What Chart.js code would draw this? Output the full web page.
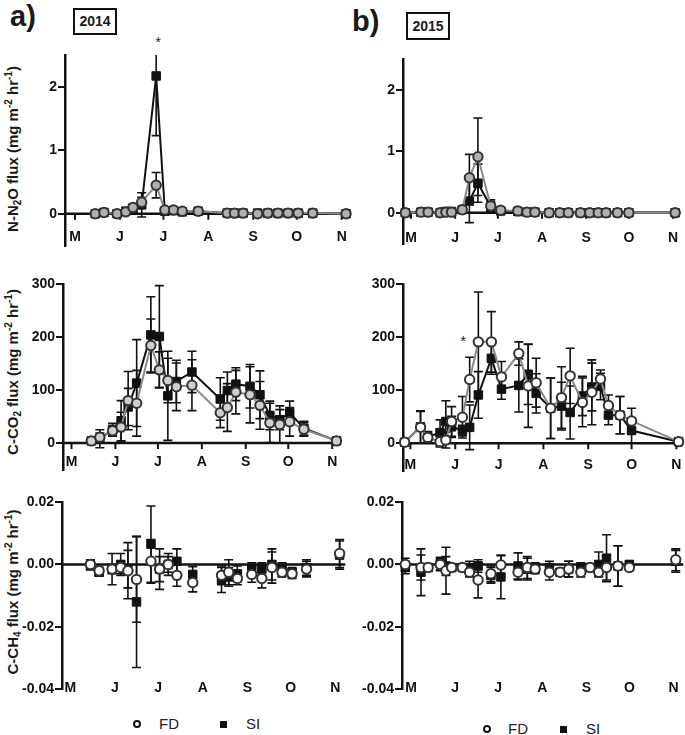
<!DOCTYPE html>
<html>
<head>
<meta charset="utf-8">
<script src="https://cdn.jsdelivr.net/npm/chart.js@4.4.1/dist/chart.umd.min.js"></script>
<style>
body{margin:0;background:#fff;width:685px;height:735px;position:relative;overflow:hidden;font-family:"Liberation Sans",Arial,sans-serif;color:#1a1a1a}
canvas{position:absolute}
.big{position:absolute;font-weight:bold;font-size:29px;line-height:29px}
.year{position:absolute;box-sizing:border-box;border:2px solid #111;font-weight:bold;font-size:14px;text-align:center}
.yt{position:absolute;font-weight:bold;font-size:15px;white-space:nowrap;transform:translate(-50%,-50%) rotate(-90deg)}
.yt sub,.yt sup{font-size:10px;line-height:0}
.yt sub{vertical-align:-3px}
.yt sup{vertical-align:6px}
.star{position:absolute;font-size:14px;line-height:14px}
.lc{position:absolute;width:4px;height:4px;border:2px solid #111;border-radius:50%}
.ls{position:absolute;width:7px;height:7px;background:#111}
.lt{position:absolute;font-size:15px;line-height:16px;color:#222}
</style>
</head>
<body>
<div class="big" style="left:10px;top:2px">a)</div>
<div class="big" style="left:352px;top:7px">b)</div>
<div class="year" style="left:73px;top:8px;width:44px;height:27px;line-height:23px">2014</div>
<div class="year" style="left:406px;top:12px;width:44px;height:28px;line-height:24px">2015</div>

<div class="yt" style="left:12px;top:149px">N-N<sub>2</sub>O flux (mg m<sup>-2</sup> hr<sup>-1</sup>)</div>
<div class="yt" style="left:12px;top:372px">C-CO<sub>2</sub> flux (mg m<sup>-2</sup> hr<sup>-1</sup>)</div>
<div class="yt" style="left:12px;top:592px">C-CH<sub>4</sub> flux (mg m<sup>-2</sup> hr<sup>-1</sup>)</div>

<div class="star" style="left:155.6px;top:35px">*</div>
<div class="star" style="left:460.6px;top:333.5px">*</div>

<canvas id="n2o14"></canvas>
<canvas id="co214"></canvas>
<canvas id="ch414"></canvas>
<canvas id="n2o15"></canvas>
<canvas id="co215"></canvas>
<canvas id="ch415"></canvas>

<span class="lc" style="left:132.7px;top:720.3px"></span>
<span class="lt" style="left:159px;top:716.3px">FD</span>
<span class="ls" style="left:219.5px;top:720.8px"></span>
<span class="lt" style="left:246px;top:716.3px">SI</span>

<span class="lc" style="left:482.7px;top:725.3px"></span>
<span class="lt" style="left:508px;top:721.3px">FD</span>
<span class="ls" style="left:559.8px;top:725.8px"></span>
<span class="lt" style="left:586px;top:721.3px">SI</span>

<script>
// months on the x axis (day of year of the 1st)
const monthLabels = ["M", "J", "J", "A", "S", "O", "N"];
const monthDays = [121, 152, 182, 213, 244, 274, 305];

// sampling days
const days2014 = [135, 141, 150, 156, 161, 167, 177, 183, 189, 195, 206, 226, 231, 237, 247, 254, 261, 268, 275, 285, 308];
const days2015 = [117, 128, 133, 141.5, 145.5, 149.5, 157, 162, 168, 177, 184, 196, 202.5, 208, 218, 225.5, 231.5, 240, 246.5, 252.5, 258, 266, 274, 306.5];

// y tick labels
const n2oTicks = [0, 1, 2];
const co2Ticks = [0, 100, 200, 300];
const ch4Ticks = [-0.04, -0.02, 0, 0.02];

// N2O 2014
const n2oFD14 = [0.00, 0.02, 0.00, 0.03, 0.10, 0.18, 0.45, 0.06, 0.06, 0.04, 0.04, 0.01, 0.01, 0.01, 0.00, 0.01, 0.01, 0.01, 0.01, 0.01, 0.00];
const n2oFD14e = [0.01, 0.01, 0.01, 0.02, 0.05, 0.08, 0.20, 0.02, 0.02, 0.01, 0.01, 0.01, 0.01, 0.01, 0.01, 0.01, 0.01, 0.01, 0.01, 0.01, 0.01];
const n2oSI14 = [0.00, 0.02, 0.00, 0.04, 0.08, 0.14, 2.17, 0.04, 0.05, 0.03, 0.04, 0.01, 0.01, 0.01, 0.01, 0.01, 0.01, 0.01, 0.01, 0.01, 0.00];
const n2oSI14e = [0.01, 0.01, 0.01, 0.02, 0.06, 0.19, 0.94, 0.02, 0.02, 0.01, 0.01, 0.01, 0.01, 0.01, 0.01, 0.01, 0.01, 0.01, 0.01, 0.01, 0.01];

// N2O 2015
const n2oFD15 = [0.00, 0.01, 0.01, 0.00, 0.01, 0.01, 0.05, 0.57, 0.91, 0.11, 0.04, 0.03, 0.01, 0.01, 0.00, 0.00, 0.00, 0.00, 0.00, 0.00, 0.00, 0.00, 0.00, 0.00];
const n2oFD15e = [0.01, 0.01, 0.01, 0.01, 0.01, 0.01, 0.02, 0.38, 0.63, 0.10, 0.02, 0.01, 0.01, 0.01, 0.01, 0.01, 0.01, 0.01, 0.01, 0.01, 0.01, 0.01, 0.01, 0.01];
const n2oSI15 = [0.00, 0.01, 0.01, 0.00, 0.02, 0.02, 0.05, 0.19, 0.48, 0.10, 0.03, 0.02, 0.01, 0.01, 0.00, 0.00, 0.00, 0.00, 0.00, 0.00, 0.00, 0.00, 0.00, 0.00];
const n2oSI15e = [0.01, 0.01, 0.01, 0.01, 0.01, 0.01, 0.03, 0.35, 0.31, 0.08, 0.02, 0.01, 0.01, 0.01, 0.01, 0.01, 0.01, 0.01, 0.01, 0.01, 0.01, 0.01, 0.01, 0.01];

// CO2 2014
const co2FD14 = [4, 11, 23, 30, 80, 75, 184, 138, 118, 106, 109, 57, 67, 96, 91, 71, 38, 35, 40, 26, 4];
const co2FD14e = [2, 8, 10, 28, 55, 62, 50, 34, 42, 45, 48, 28, 45, 41, 53, 45, 37, 35, 27, 13, 2];
const co2SI14 = [4, 8, 25, 42, 68, 113, 204, 201, 89, 116, 134, 83, 99, 111, 107, 91, 52, 44, 57, 28, 4];
const co2SI14e = [2, 17, 12, 38, 35, 82, 72, 96, 84, 40, 39, 40, 35, 31, 41, 45, 27, 19, 22, 13, 2];

// CO2 2015
const co2FD15 = [2, 30, 11, 3, 6, 41, 49, 120, 191, 191, 125, 169, 108, 114, 66, 86, 127, 77, 96, 121, 71, 53, 42, 3];
const co2FD15e = [2, 30, 10, 10, 15, 28, 39, 42, 94, 57, 29, 22, 78, 46, 57, 58, 52, 46, 61, 17, 20, 35, 24, 2];
const co2SI15 = [2, 31, 12, 20, 41, 31, 24, 30, 91, 160, 102, 109, 130, 94, 66, 70, 58, 89, 106, 107, 53, 53, 24, 3];
const co2SI15e = [2, 30, 10, 24, 39, 20, 10, 42, 44, 30, 19, 50, 57, 37, 57, 45, 50, 37, 45, 25, 18, 35, 24, 2];

// CH4 2014
const ch4FD14 = [0.0000, -0.0020, -0.0015, -0.0010, -0.0020, -0.0048, 0.0010, -0.0015, 0.0000, -0.0035, -0.0058, -0.0035, -0.0025, -0.0045, -0.0032, -0.0045, -0.0010, -0.0025, -0.0030, -0.0015, 0.0035];
const ch4FD14e = [0.0015, 0.0012, 0.0015, 0.0020, 0.0090, 0.0137, 0.0070, 0.0065, 0.0025, 0.0035, 0.0030, 0.0030, 0.0040, 0.0020, 0.0025, 0.0030, 0.0050, 0.0015, 0.0015, 0.0025, 0.0045];
const ch4SI14 = [-0.0003, -0.0025, -0.0015, 0.0000, -0.0015, -0.0120, 0.0065, -0.0015, 0.0000, 0.0010, -0.0032, -0.0050, -0.0040, -0.0030, -0.0015, -0.0015, 0.0000, -0.0015, -0.0025, -0.0010, 0.0030];
const ch4SI14e = [0.0015, 0.0012, 0.0050, 0.0035, 0.0060, 0.0210, 0.0122, 0.0040, 0.0035, 0.0040, 0.0025, 0.0040, 0.0030, 0.0025, 0.0020, 0.0020, 0.0050, 0.0020, 0.0015, 0.0025, 0.0045];

// CH4 2015
const ch4FD15 = [0.0000, -0.0010, -0.0010, 0.0000, -0.0020, -0.0010, -0.0010, -0.0025, -0.0050, -0.0030, -0.0002, -0.0025, -0.0010, -0.0015, -0.0025, -0.0025, -0.0015, -0.0025, -0.0010, -0.0025, -0.0010, -0.0005, -0.0010, 0.0015];
const ch4FD15e = [0.0020, 0.0040, 0.0010, 0.0020, 0.0075, 0.0010, 0.0010, 0.0015, 0.0057, 0.0025, 0.0030, 0.0025, 0.0035, 0.0015, 0.0025, 0.0010, 0.0025, 0.0015, 0.0010, 0.0010, 0.0040, 0.0065, 0.0010, 0.0035];
const ch4SI15 = [-0.0010, -0.0025, -0.0010, 0.0003, -0.0005, -0.0010, -0.0010, -0.0010, -0.0005, -0.0035, -0.0040, -0.0005, -0.0015, -0.0010, -0.0010, -0.0025, -0.0015, -0.0010, -0.0010, 0.0000, 0.0020, -0.0005, 0.0000, 0.0010];
const ch4SI15e = [0.0020, 0.0075, 0.0010, 0.0020, 0.0030, 0.0010, 0.0010, 0.0020, 0.0020, 0.0025, 0.0070, 0.0042, 0.0035, 0.0015, 0.0020, 0.0010, 0.0025, 0.0015, 0.0010, 0.0040, 0.0075, 0.0065, 0.0010, 0.0035];

const FONT = '"Liberation Sans", Arial, sans-serif';
const YW = 60, PT = 20, PR = 10, PB = 12;

// zero line, month ticks/labels and error bars
const decor = {
    id: "decor",
    beforeDatasetsDraw(chart, args, opts) {
        const ctx = chart.ctx, ca = chart.chartArea;
        const x = chart.scales.x, y = chart.scales.y;
        const y0 = y.getPixelForValue(0);
        ctx.save();
        ctx.strokeStyle = "#111";
        ctx.lineWidth = 2.5;
        ctx.beginPath();
        ctx.moveTo(ca.left, y0);
        ctx.lineTo(ca.right, y0);
        ctx.stroke();
        if (opts.zeroTicks) {
            ctx.lineWidth = 2;
            ctx.beginPath();
            monthDays.forEach(d => {
                const px = x.getPixelForValue(d);
                ctx.moveTo(px, y0);
                ctx.lineTo(px, y0 + 6);
            });
            ctx.stroke();
        }
        // error bars
        ctx.lineWidth = 1.6;
        chart.data.datasets.forEach(ds => {
            ds.data.forEach((p, j) => {
                const e = ds.errors[j];
                const px = x.getPixelForValue(p.x);
                let top = y.getPixelForValue(p.y + e);
                let bot = y.getPixelForValue(p.y - e);
                const capTop = top >= ca.top;
                top = Math.max(top, ca.top);
                ctx.beginPath();
                ctx.moveTo(px, top);
                ctx.lineTo(px, bot);
                if (capTop) { ctx.moveTo(px - 4.5, top); ctx.lineTo(px + 4.5, top); }
                ctx.moveTo(px - 4.5, bot);
                ctx.lineTo(px + 4.5, bot);
                ctx.stroke();
            });
        });
        // month labels
        ctx.fillStyle = "#111";
        ctx.font = "bold 14px " + FONT;
        ctx.textAlign = "center";
        ctx.textBaseline = "middle";
        monthDays.forEach((d, k) => {
            ctx.fillText(monthLabels[k], x.getPixelForValue(d), ca.bottom + opts.labelOffset);
        });
        ctx.restore();
    }
};

function drawPanel(id, L, days, fd, fdErr, si, siErr, o) {
    const cv = document.getElementById(id);
    const w = Math.round(YW + (L.endX - L.axisX) + PR);
    const h = Math.round(PT + (L.botY - L.topY) + PB);
    cv.width = w; cv.height = h;
    cv.style.width = w + "px"; cv.style.height = h + "px";
    cv.style.left = (L.axisX - YW) + "px";
    cv.style.top = (L.topY - PT) + "px";
    const pxd = (L.nTick - L.mTick) / (305 - 121);
    const pts = vals => vals.map((v, i) => ({x: days[i], y: v}));

    return new Chart(cv.getContext("2d"), {
        type: "line",
        data: {
            datasets: [{
                label: "FD",
                data: pts(fd),
                errors: fdErr,
                showLine: o.lines,
                borderColor: "#8a8a8a",
                borderWidth: 2,
                pointStyle: "circle",
                pointRadius: 4.7,
                pointBorderWidth: 2,
                pointBorderColor: "#333",
                pointBackgroundColor: o.fdFill,
                clip: false
            }, {
                label: "SI",
                data: pts(si),
                errors: siErr,
                showLine: o.lines,
                borderColor: "#111",
                borderWidth: 2,
                pointStyle: "rect",
                pointRadius: 6,
                pointBorderWidth: 1,
                pointBorderColor: "#111",
                pointBackgroundColor: "#111",
                clip: false
            }]
        },
        options: {
            responsive: false,
            animation: false,
            events: [],
            layout: {padding: {top: PT, right: w - YW - (L.endX - L.axisX), bottom: h - PT - (L.botY - L.topY), left: 0}},
            scales: {
                x: {
                    type: "linear",
                    display: false,
                    min: 121 - (L.mTick - L.axisX) / pxd,
                    max: 305 + (L.endX - L.nTick) / pxd
                },
                y: {
                    min: o.ymin,
                    max: o.ymax,
                    afterBuildTicks: s => { s.ticks = o.ticks.map(v => ({value: v})); },
                    afterFit: s => { s.width = YW; },
                    grid: {drawOnChartArea: false, drawTicks: true, tickLength: 7, color: "#111", lineWidth: 2},
                    border: {display: true, color: "#111", width: 2.5},
                    ticks: {
                        color: "#111",
                        padding: 1,
                        font: {family: FONT, size: 14, weight: "bold"},
                        callback: o.fmt
                    }
                }
            },
            plugins: {
                legend: {display: false},
                tooltip: {enabled: false},
                decor: {zeroTicks: o.zeroTicks, labelOffset: o.labelY - L.botY}
            }
        },
        plugins: [decor]
    });
}

const plain = v => String(v);
const twoDec = v => v.toFixed(2);

drawPanel("n2o14", {axisX: 65, endX: 349, topY: 54.5, botY: 245, mTick: 75, nTick: 341.7}, days2014,
    n2oFD14, n2oFD14e, n2oSI14, n2oSI14e,
    {ymin: -0.5, ymax: 2.5, ticks: n2oTicks, fmt: plain, lines: true, fdFill: "#b0b0b0", zeroTicks: true, labelY: 237});
drawPanel("co214", {axisX: 62.5, endX: 340, topY: 284.3, botY: 469.8, mTick: 71, nTick: 331.7}, days2014,
    co2FD14, co2FD14e, co2SI14, co2SI14e,
    {ymin: -50, ymax: 300, ticks: co2Ticks, fmt: plain, lines: true, fdFill: "#d0d0d0", zeroTicks: true, labelY: 462.3});
drawPanel("ch414", {axisX: 61.7, endX: 345, topY: 501.7, botY: 689, mTick: 70, nTick: 335}, days2014,
    ch4FD14, ch4FD14e, ch4SI14, ch4SI14e,
    {ymin: -0.04, ymax: 0.02, ticks: ch4Ticks, fmt: twoDec, lines: false, fdFill: "#fff", zeroTicks: false, labelY: 688});
drawPanel("n2o15", {axisX: 402.7, endX: 680, topY: 58.5, botY: 243, mTick: 410.7, nTick: 672.7}, days2015,
    n2oFD15, n2oFD15e, n2oSI15, n2oSI15e,
    {ymin: -0.5, ymax: 2.5, ticks: n2oTicks, fmt: plain, lines: true, fdFill: "#b0b0b0", zeroTicks: true, labelY: 237.7});
drawPanel("co215", {axisX: 403.3, endX: 683, topY: 284.3, botY: 471.7, mTick: 410.7, nTick: 676.7}, days2015,
    co2FD15, co2FD15e, co2SI15, co2SI15e,
    {ymin: -53, ymax: 300, ticks: co2Ticks, fmt: plain, lines: true, fdFill: "#fff", zeroTicks: true, labelY: 465});
drawPanel("ch415", {axisX: 401.7, endX: 683, topY: 501.7, botY: 689, mTick: 410.7, nTick: 673.3}, days2015,
    ch4FD15, ch4FD15e, ch4SI15, ch4SI15e,
    {ymin: -0.04, ymax: 0.02, ticks: ch4Ticks, fmt: twoDec, lines: false, fdFill: "#fff", zeroTicks: false, labelY: 688});
</script>
</body>
</html>
